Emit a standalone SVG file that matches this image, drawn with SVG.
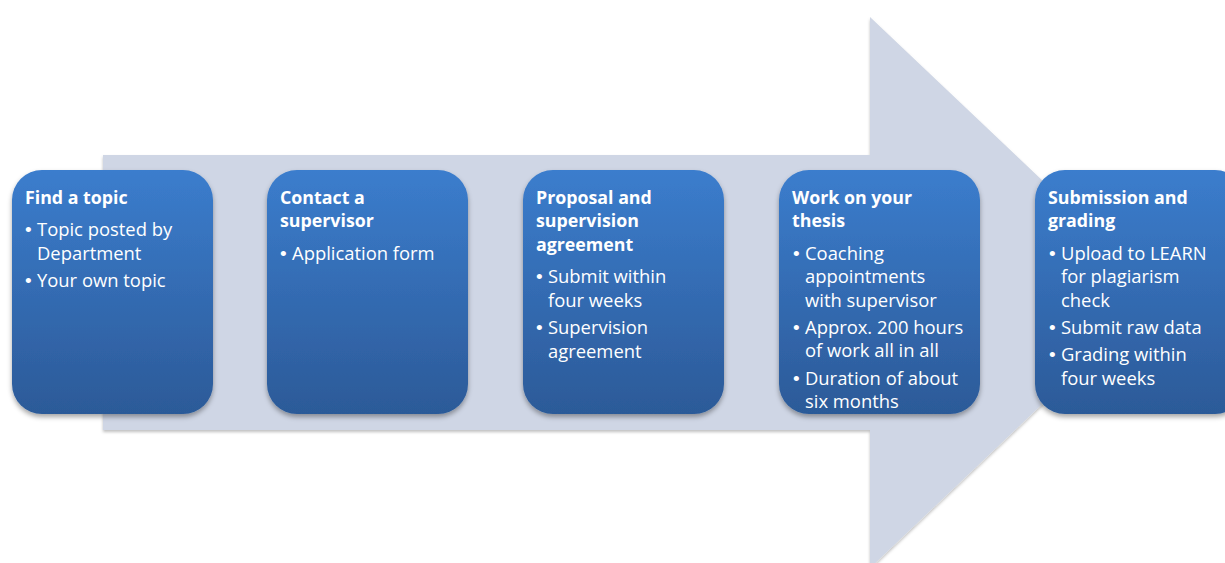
<svg xmlns="http://www.w3.org/2000/svg" width="1225" height="563" viewBox="0 0 1225 563">
  <style>
    .box { fill: url(#boxFill); filter: url(#shadow); }
    .title { font-family: "Open Sans", "Liberation Sans", sans-serif; font-weight: bold; font-size: 17.8px; fill: #ffffff; }
    .item { font-family: "Open Sans", "Liberation Sans", sans-serif; font-size: 18.4px; fill: #ffffff; }
    .dot { font-family: "Liberation Sans", sans-serif; font-size: 19px; fill: #ffffff; }
  </style>
  <defs>
    <linearGradient id="boxFill" x1="0" y1="0" x2="0" y2="1">
      <stop offset="0" stop-color="#3B7DCD"/>
      <stop offset="1" stop-color="#2C5A98"/>
    </linearGradient>
    <filter id="shadow" x="-10%" y="-10%" width="120%" height="125%">
      <feDropShadow dx="0" dy="3" stdDeviation="2.5" flood-color="#000000" flood-opacity="0.35"/>
    </filter>
    <filter id="arrowShadow" x="-5%" y="-5%" width="110%" height="110%">
      <feDropShadow dx="0" dy="2" stdDeviation="1.5" flood-color="#000000" flood-opacity="0.25"/>
    </filter>
  </defs>

  <!-- background process arrow -->
  <g id="connectors">
    <path d="M103 155 H870 V17 L1160 292 L870 568 V430 H103 Z" fill="#CFD6E5" filter="url(#arrowShadow)"/>
  </g>

  <g id="step-find-topic">
    <rect class="box" x="12" y="170" width="201" height="244" rx="30"/>
    <text class="title" x="25" y="204">Find a topic</text>
    <text class="dot" x="25" y="236">•</text>
    <text class="item" x="37" y="236">Topic posted by</text>
    <text class="item" x="37" y="260">Department</text>
    <text class="dot" x="25" y="287">•</text>
    <text class="item" x="37" y="287">Your own topic</text>
  </g>

  <g id="step-contact-supervisor">
    <rect class="box" x="267" y="170" width="201" height="244" rx="30"/>
    <text class="title" x="280" y="204">Contact a</text>
    <text class="title" x="280" y="227">supervisor</text>
    <text class="dot" x="280" y="260">•</text>
    <text class="item" x="292" y="260">Application form</text>
  </g>

  <g id="step-proposal">
    <rect class="box" x="523" y="170" width="201" height="244" rx="30"/>
    <text class="title" x="536" y="204">Proposal and</text>
    <text class="title" x="536" y="227">supervision</text>
    <text class="title" x="536" y="251">agreement</text>
    <text class="dot" x="536" y="283">•</text>
    <text class="item" x="548" y="283">Submit within</text>
    <text class="item" x="548" y="307">four weeks</text>
    <text class="dot" x="536" y="334">•</text>
    <text class="item" x="548" y="334">Supervision</text>
    <text class="item" x="548" y="358">agreement</text>
  </g>

  <g id="step-thesis-work">
    <rect class="box" x="779" y="170" width="201" height="244" rx="30"/>
    <text class="title" x="792" y="204">Work on your</text>
    <text class="title" x="792" y="227">thesis</text>
    <text class="dot" x="793" y="260">•</text>
    <text class="item" x="805" y="260">Coaching</text>
    <text class="item" x="805" y="283">appointments</text>
    <text class="item" x="805" y="307">with supervisor</text>
    <text class="dot" x="793" y="334">•</text>
    <text class="item" x="805" y="334">Approx. 200 hours</text>
    <text class="item" x="805" y="357">of work all in all</text>
    <text class="dot" x="793" y="385">•</text>
    <text class="item" x="805" y="385">Duration of about</text>
    <text class="item" x="805" y="408">six months</text>
  </g>

  <g id="step-submission">
    <rect class="box" x="1035" y="170" width="210" height="244" rx="30"/>
    <text class="title" x="1048" y="204">Submission and</text>
    <text class="title" x="1048" y="227">grading</text>
    <text class="dot" x="1049" y="260">•</text>
    <text class="item" x="1061" y="260">Upload to LEARN</text>
    <text class="item" x="1061" y="283">for plagiarism</text>
    <text class="item" x="1061" y="307">check</text>
    <text class="dot" x="1049" y="334">•</text>
    <text class="item" x="1061" y="334">Submit raw data</text>
    <text class="dot" x="1049" y="361">•</text>
    <text class="item" x="1061" y="361">Grading within</text>
    <text class="item" x="1061" y="385">four weeks</text>
  </g>
</svg>
